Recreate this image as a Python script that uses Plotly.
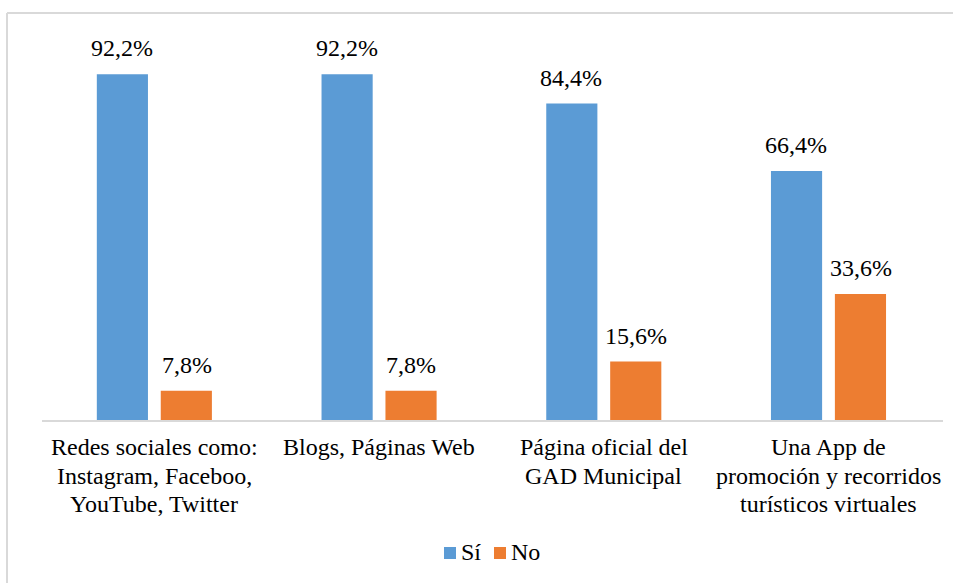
import plotly.graph_objects as go

categories = [
    "Redes sociales como:<br>Instagram, Faceboo,<br>YouTube, Twitter",
    "Blogs, Páginas Web",
    "Página oficial del<br>GAD Municipal",
    "Una App de<br>promoción y recorridos<br>turísticos virtuales",
]
cat_keys = ["c1", "c2", "c3", "c4"]
si_values = [92.2, 92.2, 84.4, 66.4]
no_values = [7.8, 7.8, 15.6, 33.6]
series_names = ["Sí", "No"]
colors = ["#5B9BD5", "#ED7D31"]

FONT = "Liberation Serif"
FS = 24

def fmt(v):
    return f"{v:.1f}".replace(".", ",") + "%"

fig = go.Figure()
for name, vals, col in zip(series_names, [si_values, no_values], colors):
    fig.add_trace(go.Bar(
        x=cat_keys, y=vals, name=name, marker=dict(color=col, line=dict(width=0)),
        showlegend=False,
    ))

annotations = []
# value labels above the bars
for s, (vals, dx) in enumerate(zip([si_values, no_values], [-32.3, 32.3])):
    for key, v in zip(cat_keys, vals):
        annotations.append(dict(
            x=key, y=v, xref="x", yref="y", text=fmt(v), showarrow=False,
            xanchor="center", yanchor="middle", xshift=dx, yshift=26,
            font=dict(family=FONT, size=FS, color="#000000"),
        ))

# category labels, one per line
for key, lab in zip(cat_keys, categories):
    for i, line in enumerate(lab.split("<br>")):
        annotations.append(dict(
            x=key, y=0, xref="x", yref="y", text=line, showarrow=False,
            yanchor="middle", xanchor="center", yshift=-(27 + 28.7 * i),
            font=dict(family=FONT, size=FS, color="#000000"),
        ))

plot_w = 953 - 42 - 10
plot_h = 583 - 45 - 163

def px(x):
    return (x - 42) / plot_w

def py(y):
    return (420 - y) / plot_h

# legend (drawn as squares + text)
shapes = []
legend_items = [(444, 459), (494, 509)]
for (sx, tx), name, col in zip(legend_items, series_names, colors):
    shapes.append(dict(type="rect", xref="paper", yref="paper",
                       x0=px(sx), x1=px(sx + 12), y0=py(547), y1=py(559),
                       fillcolor=col, line=dict(width=0)))
    annotations.append(dict(x=px(tx), y=py(552), xref="paper", yref="paper",
                            text=name, showarrow=False, xanchor="left", yanchor="middle",
                            font=dict(family=FONT, size=FS, color="#000000")))

# chart border
shapes += [
    dict(type="line", xref="paper", yref="paper", x0=px(7), x1=1.2, y0=py(13), y1=py(13),
         line=dict(color="#D9D9D9", width=2)),
    dict(type="line", xref="paper", yref="paper", x0=px(7), x1=px(7), y0=py(13), y1=-1,
         line=dict(color="#D9D9D9", width=2)),
]

fig.update_layout(
    width=953, height=583,
    margin=dict(l=42, r=10, t=45, b=163),
    paper_bgcolor="white", plot_bgcolor="white",
    barmode="group", bargap=0.431, bargroupgap=0.2,
    font=dict(family=FONT, size=FS, color="#000000"),
    xaxis=dict(showticklabels=False, showline=True, linecolor="#D9D9D9", linewidth=1.5,
               ticks="", showgrid=False, zeroline=False),
    yaxis=dict(range=[0, 100], visible=False, showgrid=False, zeroline=False),
    showlegend=False,
    annotations=annotations,
    shapes=shapes,
)

fig.write_html("out.html", config={"displayModeBar": False},
               post_script="document.body.style.margin='0';document.body.style.overflow='hidden';")
